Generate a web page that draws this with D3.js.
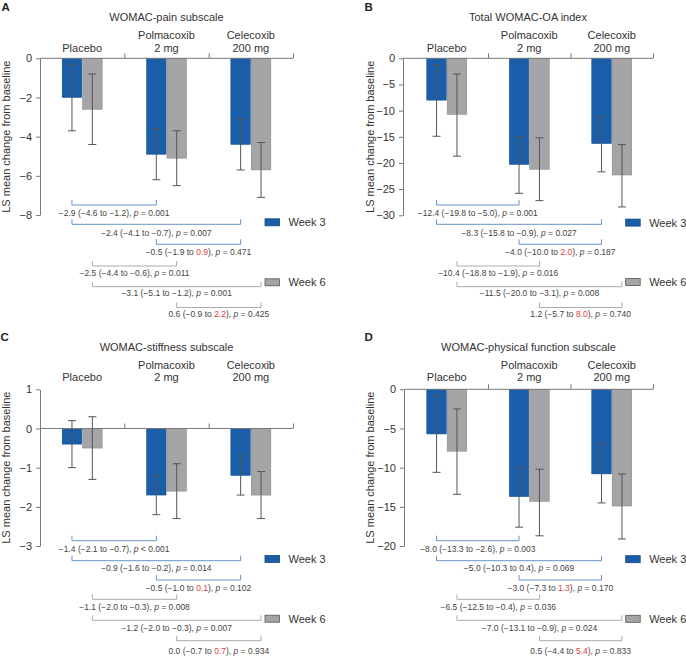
<!DOCTYPE html>
<html><head><meta charset="utf-8">
<script src="https://cdn.jsdelivr.net/npm/d3@7"></script>
<style>body{margin:0;background:#fff} svg{display:block;font-family:"Liberation Sans",Arial,Helvetica,sans-serif}</style>
</head><body><svg id="chart" width="686" height="658"></svg>
<script>
// ---------- shared data ----------
const catLine1 = ["", "Polmacoxib", "Celecoxib"];
const catLine2 = ["Placebo", "2 mg", "200 mg"];
const weeks = ["Week 3", "Week 6"];
const comparisons = [[0, 1], [0, 2], [1, 2]];
const yLabel = "LS mean change from baseline";

// ---------- A: WOMAC-pain ----------
const painTitle = "WOMAC-pain subscale";
const painTicks = [0, -2, -4, -6, -8];
const painW3 = [-2.0, -4.9, -4.4];
const painW3Lo = [-3.7, -6.2, -5.7];
const painW3Hi = [-0.3, -3.6, -3.1];
const painW6 = [-2.6, -5.1, -5.7];
const painW6Lo = [-4.4, -6.5, -7.1];
const painW6Hi = [-0.8, -3.7, -4.3];
const painDiff = [-2.9, -2.4, -0.5, -2.5, -3.1, 0.6];
const painDiffLo = [-4.6, -4.1, -1.9, -4.4, -5.1, -0.9];
const painDiffHi = [-1.2, -0.7, 0.9, -0.6, -1.2, 2.2];
const painPOp = ["=", "=", "=", "=", "=", "="];
const painP = [0.001, 0.007, 0.471, 0.011, 0.001, 0.425];

// ---------- B: Total WOMAC-OA ----------
const totalTitle = "Total WOMAC-OA index";
const totalTicks = [0, -5, -10, -15, -20, -25, -30];
const totalW3 = [-8.0, -20.3, -16.3];
const totalW3Lo = [-14.9, -25.8, -21.7];
const totalW3Hi = [-1.2, -15.0, -11.2];
const totalW6 = [-10.7, -21.2, -22.3];
const totalW6Lo = [-18.7, -27.2, -28.4];
const totalW6Hi = [-3.0, -15.2, -16.5];
const totalDiff = [-12.4, -8.3, -4.0, -10.4, -11.5, 1.2];
const totalDiffLo = [-19.8, -15.8, -10.0, -18.8, -20.0, -5.7];
const totalDiffHi = [-5.0, -0.9, 2.0, -1.9, -3.1, 8.0];
const totalPOp = ["=", "=", "=", "=", "=", "="];
const totalP = [0.001, 0.027, 0.187, 0.016, 0.008, 0.740];

// ---------- C: WOMAC-stiffness ----------
const stiffTitle = "WOMAC-stiffness subscale";
const stiffTicks = [1, 0, -1, -2, -3];
const stiffW3 = [-0.4, -1.7, -1.2];
const stiffW3Lo = [-1.0, -2.2, -1.7];
const stiffW3Hi = [0.2, -1.2, -0.7];
const stiffW6 = [-0.5, -1.6, -1.7];
const stiffW6Lo = [-1.3, -2.3, -2.3];
const stiffW6Hi = [0.3, -0.9, -1.1];
const stiffDiff = [-1.4, -0.9, -0.5, -1.1, -1.2, 0.0];
const stiffDiffLo = [-2.1, -1.6, -1.0, -2.0, -2.0, -0.7];
const stiffDiffHi = [-0.7, -0.2, 0.1, -0.3, -0.3, 0.7];
const stiffPOp = ["<", "=", "=", "=", "=", "="];
const stiffP = [0.001, 0.014, 0.102, 0.008, 0.007, 0.934];

// ---------- D: WOMAC-physical function ----------
const physTitle = "WOMAC-physical function subscale";
const physTicks = [0, -5, -10, -15, -20];
const physW3 = [-5.7, -13.7, -10.8];
const physW3Lo = [-10.6, -17.6, -14.5];
const physW3Hi = [-0.8, -10.0, -6.9];
const physW6 = [-7.9, -14.3, -14.9];
const physW6Lo = [-13.4, -18.7, -19.1];
const physW6Hi = [-2.5, -10.2, -10.8];
const physDiff = [-8.0, -5.0, -3.0, -6.5, -7.0, 0.5];
const physDiffLo = [-13.3, -10.3, -7.3, -12.5, -13.1, -4.4];
const physDiffHi = [-2.6, 0.4, 1.3, -0.4, -0.9, 5.4];
const physPOp = ["=", "=", "=", "=", "=", "="];
const physP = [0.003, 0.069, 0.170, 0.036, 0.024, 0.833];

// ---------- styling / layout ----------
const C_BLUE = "#1a5ea9", C_GRAY = "#a5a5a8";
const C_BLUE_BR = "#6594cb", C_GRAY_BR = "#ababab";
const C_AXIS = "#7a7a7a", C_TEXT = "#333", C_RED = "#e0403a";

const svg = d3.select("#chart");
const fmt1 = d3.format(".1f"), fmt3 = d3.format(".3f");

function drawPanel(L, D) {
  const g = svg.append("g");
  // y scale
  const y = d3.scaleLinear().domain([D.ticks[0], D.ticks[D.ticks.length - 1]]).range([L.top, L.bottom]);
  const x0 = d3.scaleBand().domain([0, 1, 2]).range([L.bandLeft, L.right]).paddingInner(0).paddingOuter(0);
  const x1 = d3.scaleBand().domain(weeks).range([-20, 20]).paddingInner(0.04);

  // letter
  g.append("text").attr("x", L.lx).attr("y", L.ly).attr("font-size", 11.5).attr("font-weight", "bold")
    .attr("fill", "#222").text(L.letter);
  // title
  g.append("text").attr("x", (L.axisX + L.right) / 2).attr("y", L.titleY).attr("text-anchor", "middle")
    .attr("font-size", 11).attr("fill", C_TEXT).text(D.title);
  // categories
  [0, 1, 2].forEach(i => {
    const cx = x0(i) + x0.bandwidth() / 2;
    if (catLine1[i]) g.append("text").attr("x", cx).attr("y", L.l1Y).attr("text-anchor", "middle")
      .attr("font-size", 11).attr("fill", C_TEXT).text(catLine1[i]);
    g.append("text").attr("x", cx).attr("y", L.l2Y).attr("text-anchor", "middle")
      .attr("font-size", 11).attr("fill", C_TEXT).text(catLine2[i]);
  });

  // y axis
  const ya = g.append("g").attr("transform", `translate(${L.axisX},0)`)
    .call(d3.axisLeft(y).tickValues(D.ticks).tickSize(4).tickPadding(4).tickSizeOuter(0).tickFormat(d3.format("d")));
  ya.selectAll("path,line").attr("stroke", C_AXIS);
  ya.selectAll("text").attr("font-size", 11).attr("fill", C_TEXT).attr("font-family", "Liberation Sans, Arial, sans-serif");
  g.append("text").attr("transform", `translate(${L.ylabX},${(L.top + L.bottom) / 2}) rotate(-90)`)
    .attr("text-anchor", "middle").attr("font-size", 11).attr("fill", C_TEXT).text(yLabel);

  // bars
  const series = [
    { w: weeks[0], v: D.w3, lo: D.w3Lo, hi: D.w3Hi, fill: C_BLUE, stroke: "#14508f" },
    { w: weeks[1], v: D.w6, lo: D.w6Lo, hi: D.w6Hi, fill: C_GRAY, stroke: "#808083" }
  ];
  series.forEach(s => {
    s.v.forEach((v, i) => {
      const bx = x0(i) + x0.bandwidth() / 2 + x1(s.w);
      g.append("rect").attr("x", bx).attr("width", x1.bandwidth())
        .attr("y", y(Math.max(0, v))).attr("height", Math.abs(y(v) - y(0)))
        .attr("fill", s.fill).attr("stroke", s.stroke).attr("stroke-width", 0.5);
    });
  });
  // x axis at zero
  const xa = d3.scaleLinear().domain([0, 3]).range([L.bandLeft, L.right]);
  const xg = g.append("g").attr("transform", `translate(0,${y(0)})`)
    .call(d3.axisTop(xa).tickValues([1, 2, 3]).tickSize(5).tickSizeOuter(0).tickFormat(""));
  xg.select(".domain").remove();
  xg.selectAll("line").attr("stroke", C_AXIS);
  g.append("line").attr("x1", L.axisX).attr("x2", L.right).attr("y1", y(0)).attr("y2", y(0)).attr("stroke", C_AXIS);

  // error bars
  series.forEach(s => {
    s.v.forEach((v, i) => {
      const cx = x0(i) + x0.bandwidth() / 2 + x1(s.w) + x1.bandwidth() / 2;
      const eg = g.append("g").attr("stroke", "#555").attr("stroke-width", 1);
      eg.append("line").attr("x1", cx).attr("x2", cx).attr("y1", y(s.hi[i])).attr("y2", y(s.lo[i]));
      eg.append("line").attr("x1", cx - 4).attr("x2", cx + 4).attr("y1", y(s.hi[i])).attr("y2", y(s.hi[i]));
      eg.append("line").attr("x1", cx - 4).attr("x2", cx + 4).attr("y1", y(s.lo[i])).attr("y2", y(s.lo[i]));
    });
  });

  // comparison brackets
  let row = 0;
  weeks.forEach((w, wi) => {
    const col = wi === 0 ? C_BLUE_BR : C_GRAY_BR;
    comparisons.forEach((cmp, ci) => {
      const xa_ = x0(cmp[0]) + x0.bandwidth() / 2 + x1(w) + x1.bandwidth() / 2;
      const xb_ = x0(cmp[1]) + x0.bandwidth() / 2 + x1(w) + x1.bandwidth() / 2;
      const by = L.rows[row];
      g.append("path").attr("d", `M${xa_},${by - 5}V${by}H${xb_}V${by - 5}`)
        .attr("fill", "none").attr("stroke", col).attr("stroke-width", 1);
      const t = g.append("text").attr("x", (xa_ + xb_) / 2).attr("y", L.textRows[row] + 3)
        .attr("text-anchor", "middle").attr("font-size", 8.5).attr("fill", "#444");
      t.append("tspan").text(`${fmt1(D.diff[row])} (${fmt1(D.diffLo[row])} to `);
      t.append("tspan").attr("fill", ci === 2 ? C_RED : "#444").text(fmt1(D.diffHi[row]));
      t.append("tspan").text("), ");
      t.append("tspan").attr("font-style", "italic").text("p");
      t.append("tspan").text(` ${D.pOp[row]} ${fmt3(D.p[row])}`);
      row++;
    });
  });

  // legend
  weeks.forEach((w, wi) => {
    const cy = L.leg[wi];
    g.append("rect").attr("x", L.legX).attr("y", cy - 3.5).attr("width", 14.5).attr("height", 7)
      .attr("fill", wi === 0 ? C_BLUE : C_GRAY).attr("stroke", wi === 0 ? "#14467f" : "#555").attr("stroke-width", 0.8);
    g.append("text").attr("x", L.legX + 23.5).attr("y", cy + 4).attr("font-size", 11).attr("fill", C_TEXT).text(w);
  });
}

const rowsTop = [205, 224.3, 244.3, 266, 286.7, 307.5];
const textTop = [213, 233, 252.3, 273.3, 293, 314];
const rowsBot = [540.7, 560.7, 580, 599.3, 620.3, 640.7];
const textBot = [548.7, 568.3, 587.7, 607.3, 628.3, 650.5];

drawPanel({ letter: "A", lx: 1.5, ly: 11, axisX: 40, bandLeft: 40, right: 293, top: 58.3, bottom: 215,
  titleY: 21.3, l1Y: 39, l2Y: 51.5, ylabX: 10, rows: rowsTop, textRows: textTop, leg: [222.3, 282.3], legX: 265 },
  { title: painTitle, ticks: painTicks, w3: painW3, w3Lo: painW3Lo, w3Hi: painW3Hi, w6: painW6, w6Lo: painW6Lo, w6Hi: painW6Hi,
    diff: painDiff, diffLo: painDiffLo, diffHi: painDiffHi, pOp: painPOp, p: painP });

drawPanel({ letter: "B", lx: 364.5, ly: 11, axisX: 403, bandLeft: 405.5, right: 653, top: 58.3, bottom: 215.3,
  titleY: 21.3, l1Y: 39, l2Y: 51.5, ylabX: 374, rows: rowsTop, textRows: textTop, leg: [222.6, 282], legX: 625.7 },
  { title: totalTitle, ticks: totalTicks, w3: totalW3, w3Lo: totalW3Lo, w3Hi: totalW3Hi, w6: totalW6, w6Lo: totalW6Lo, w6Hi: totalW6Hi,
    diff: totalDiff, diffLo: totalDiffLo, diffHi: totalDiffHi, pOp: totalPOp, p: totalP });

drawPanel({ letter: "C", lx: 0.5, ly: 340.5, axisX: 40, bandLeft: 40, right: 293, top: 389.3, bottom: 546,
  titleY: 350.6, l1Y: 368.7, l2Y: 380.6, ylabX: 10, rows: rowsBot, textRows: textBot, leg: [559, 618.7], legX: 265 },
  { title: stiffTitle, ticks: stiffTicks, w3: stiffW3, w3Lo: stiffW3Lo, w3Hi: stiffW3Hi, w6: stiffW6, w6Lo: stiffW6Lo, w6Hi: stiffW6Hi,
    diff: stiffDiff, diffLo: stiffDiffLo, diffHi: stiffDiffHi, pOp: stiffPOp, p: stiffP });

drawPanel({ letter: "D", lx: 364.5, ly: 340.5, axisX: 404, bandLeft: 405.5, right: 653, top: 389.3, bottom: 546,
  titleY: 350.6, l1Y: 368.7, l2Y: 380.6, ylabX: 374, rows: rowsBot, textRows: textBot, leg: [559.2, 618.8], legX: 625.7 },
  { title: physTitle, ticks: physTicks, w3: physW3, w3Lo: physW3Lo, w3Hi: physW3Hi, w6: physW6, w6Lo: physW6Lo, w6Hi: physW6Hi,
    diff: physDiff, diffLo: physDiffLo, diffHi: physDiffHi, pOp: physPOp, p: physP });
</script>
</body></html>
